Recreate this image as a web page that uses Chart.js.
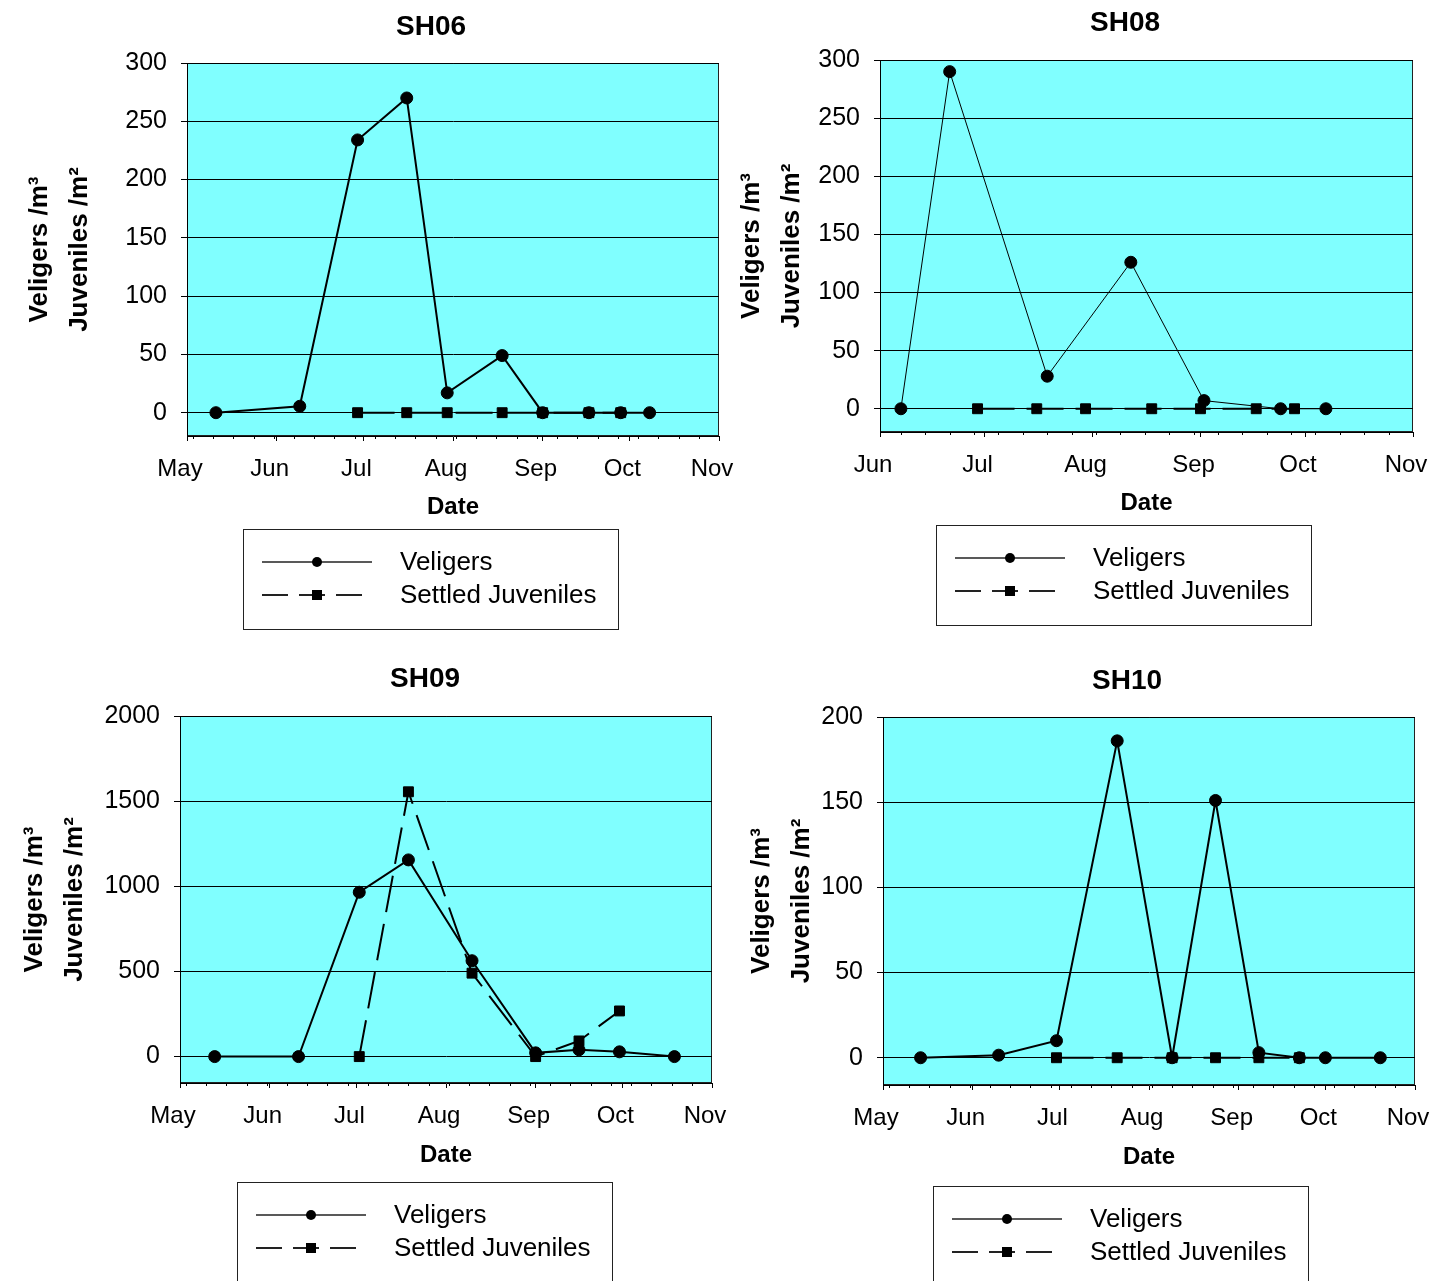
<!DOCTYPE html>
<html>
<head>
<meta charset="utf-8">
<title>Veligers and settled juveniles</title>
<script src="https://cdn.jsdelivr.net/npm/chart.js@4.4.1/dist/chart.umd.min.js"></script>
<style>
  html, body { margin: 0; padding: 0; background: #fff; }
  body { position: relative; width: 1432px; height: 1281px; overflow: hidden; }
  canvas { position: absolute; }
</style>
</head>
<body>
<canvas id="sh06"></canvas>
<canvas id="sh08"></canvas>
<canvas id="sh09"></canvas>
<canvas id="sh10"></canvas>
<script>
/* ---------- axis labels ---------- */
const monthNames = ['May', 'Jun', 'Jul', 'Aug', 'Sep', 'Oct', 'Nov'];
const monthFirsts = ['05-01', '06-01', '07-01', '08-01', '09-01', '10-01', '11-01'];
const minorTickStart = '05-03';   // weekly minor ticks

const yTicks300 = [0, 50, 100, 150, 200, 250, 300];
const yTicks2000 = [0, 500, 1000, 1500, 2000];
const yTicks200 = [0, 50, 100, 150, 200];

/* ---------- SH06 ---------- */
const sh06VeligerDates = ['05-11', '06-09', '06-29', '07-16', '07-30', '08-18', '09-01', '09-17', '09-28', '10-08'];
const sh06Veligers = [0, 5.5, 234, 270, 17, 49, 0, 0, 0, 0];
const sh06JuvenileDates = ['06-29', '07-16', '07-30', '08-18', '09-01', '09-17', '09-28'];
const sh06Juveniles = [0, 0, 0, 0, 0, 0, 0];

/* ---------- SH08 ---------- */
const sh08VeligerDates = ['06-07', '06-21', '07-19', '08-12', '09-02', '09-24', '10-07'];
const sh08Veligers = [0, 290, 28, 126, 7, 0, 0];
const sh08JuvenileDates = ['06-29', '07-16', '07-30', '08-18', '09-01', '09-17', '09-28'];
const sh08Juveniles = [0, 0, 0, 0, 0, 0, 0];

/* ---------- SH09 ---------- */
const sh09VeligerDates = ['05-13', '06-11', '07-02', '07-19', '08-10', '09-01', '09-16', '09-30', '10-19'];
const sh09Veligers = [0, 0, 965, 1155, 563, 22, 40, 28, 0];
const sh09JuvenileDates = ['07-02', '07-19', '08-10', '09-01', '09-16', '09-30'];
const sh09Juveniles = [0, 1555, 490, 0, 92, 268];

/* ---------- SH10 ---------- */
const sh10VeligerDates = ['05-14', '06-10', '06-30', '07-21', '08-09', '08-24', '09-08', '09-22', '10-01', '10-20'];
const sh10Veligers = [0, 1.5, 10, 186, 0, 151, 3, 0, 0, 0];
const sh10JuvenileDates = ['06-30', '07-21', '08-09', '08-24', '09-08', '09-22'];
const sh10Juveniles = [0, 0, 0, 0, 0, 0];

/* ---------- helpers ---------- */
const monthOffset = { '05': 120, '06': 151, '07': 181, '08': 212, '09': 243, '10': 273, '11': 304 };
function dayOf(md) {
  const [m, d] = md.split('-');
  return monthOffset[m] + Number(d);
}
function points(dates, values) {
  return dates.map((d, i) => ({ x: dayOf(d), y: values[i] }));
}

const FONT = "'Liberation Sans', Arial, sans-serif";
Chart.defaults.font.family = FONT;
Chart.defaults.color = '#000';

/* cyan plot box, minor ticks, title and legend box */
function excelFrame(o) {
  return {
    id: 'excelFrame',
    beforeDraw(chart) {
      const { ctx, chartArea: a } = chart;
      ctx.save();
      ctx.fillStyle = '#80ffff';
      ctx.fillRect(a.left, a.top, a.width, a.height);
      ctx.strokeStyle = '#222';
      ctx.lineWidth = 1;
      ctx.strokeRect(a.left + 0.5, a.top + 0.5, a.width - 1, a.height - 1);
      ctx.restore();
    },
    afterDraw(chart) {
      const { ctx, chartArea: a } = chart;
      const xs = chart.scales.x;
      const cx = o.canvas.x, cy = o.canvas.y;
      ctx.save();

      // weekly minor ticks
      ctx.strokeStyle = '#000';
      ctx.lineWidth = 1;
      ctx.beginPath();
      for (let v = dayOf(minorTickStart); v <= xs.max; v += 7) {
        if (v < xs.min) continue;
        const px = Math.round(xs.getPixelForValue(v)) + 0.5;
        ctx.moveTo(px, a.bottom);
        ctx.lineTo(px, a.bottom + 3);
      }
      ctx.stroke();

      // chart title
      ctx.fillStyle = '#000';
      ctx.font = 'bold 28px ' + FONT;
      ctx.textAlign = 'center';
      ctx.textBaseline = 'middle';
      ctx.fillText(o.title, o.titleX - cx, o.titleY - cy);

      // legend box
      const L = o.legend;
      const lx = L.x - cx, ly = L.y - cy;
      ctx.strokeStyle = '#222';
      ctx.strokeRect(lx + 0.5, ly + 0.5, 375, 100);
      ctx.font = '26px ' + FONT;
      ctx.textAlign = 'left';
      chart.data.datasets.forEach((ds, i) => {
        const ry = ly + 33 + i * 33;
        const x1 = lx + 19, x2 = lx + 129, xm = (x1 + x2) / 2;
        ctx.beginPath();
        ctx.lineWidth = ds.borderDash ? 2 : 1.5;
        ctx.setLineDash(ds.borderDash ? [26, 11] : []);
        ctx.moveTo(x1, ry);
        ctx.lineTo(x2, ry);
        ctx.stroke();
        ctx.setLineDash([]);
        if (ds.pointStyle === 'rect') {
          ctx.fillRect(xm - 5, ry - 5, 10, 10);
        } else {
          ctx.beginPath();
          ctx.arc(xm, ry, 5, 0, Math.PI * 2);
          ctx.fill();
        }
        ctx.fillText(ds.label, lx + 157, ry + 1);
      });
      ctx.restore();
    }
  };
}

function buildChart(id, o) {
  const cv = document.getElementById(id);
  cv.width = o.canvas.w;
  cv.height = o.canvas.h;
  cv.style.left = o.canvas.x + 'px';
  cv.style.top = o.canvas.y + 'px';
  const p = o.plot;
  const xHeight = (o.dateY - p.bottom) + 14.4;

  return new Chart(cv, {
    type: 'line',
    data: {
      datasets: [
        {
          label: 'Veligers',
          data: points(o.velDates, o.vel),
          borderColor: '#000',
          backgroundColor: '#000',
          borderWidth: o.velWidth,
          pointStyle: 'circle',
          pointRadius: 6,
          pointBorderWidth: 1,
          tension: 0
        },
        {
          label: 'Settled Juveniles',
          data: points(o.juvDates, o.juv),
          borderColor: '#000',
          backgroundColor: '#000',
          borderWidth: 2,
          borderDash: [37, 12],
          pointStyle: 'rect',
          pointRadius: 7,
          pointBorderWidth: 1,
          tension: 0
        }
      ]
    },
    options: {
      responsive: false,
      animation: false,
      events: [],
      layout: {
        padding: {
          left: 0,
          top: p.top - o.canvas.y,
          right: o.canvas.x + o.canvas.w - p.right,
          bottom: o.canvas.y + o.canvas.h - p.bottom - xHeight
        }
      },
      scales: {
        x: {
          type: 'linear',
          min: dayOf(o.months[0]),
          max: dayOf(o.months[o.months.length - 1]),
          afterBuildTicks: s => { s.ticks = o.months.map(m => ({ value: dayOf(m) })); },
          afterFit: s => { s.height = xHeight; s.paddingLeft = 0; s.paddingRight = 0; },
          ticks: {
            callback: (v, i) => o.names[i],
            labelOffset: -7,
            padding: 14,
            maxRotation: 0,
            autoSkip: false,
            font: { size: 24 }
          },
          grid: { drawOnChartArea: false, tickLength: 5, color: '#000' },
          border: { color: '#000' },
          title: { display: true, text: 'Date', padding: 0, font: { size: 24, weight: 'bold' } }
        },
        y: {
          min: o.yMin,
          max: o.yTicks[o.yTicks.length - 1],
          afterBuildTicks: s => { s.ticks = o.yTicks.map(v => ({ value: v })); },
          afterFit: s => { s.width = p.left - o.canvas.x; s.paddingTop = 0; s.paddingBottom = 0; },
          ticks: { callback: v => String(v), padding: 14, font: { size: 25 } },
          grid: { color: '#000', tickLength: 6 },
          border: { color: '#000' },
          title: {
            display: true,
            text: ['Veligers /m\u00b3', 'Juveniles /m\u00b2'],
            padding: { top: o.yTitleX - o.canvas.x - 20, bottom: 0 },
            font: { size: 26, weight: 'bold', lineHeight: 40 / 26 }
          }
        }
      },
      plugins: {
        legend: { display: false },
        tooltip: { enabled: false }
      }
    },
    plugins: [excelFrame(o)]
  });
}

buildChart('sh06', {
  title: 'SH06', titleX: 431, titleY: 27,
  canvas: { x: 0, y: 0, w: 760, h: 640 },
  plot: { left: 187, top: 63, right: 719, bottom: 436 },
  dateY: 507, yTitleX: 40,
  months: monthFirsts, names: monthNames,
  yTicks: yTicks300, yMin: -20,
  velDates: sh06VeligerDates, vel: sh06Veligers, velWidth: 2,
  juvDates: sh06JuvenileDates, juv: sh06Juveniles,
  legend: { x: 243, y: 529 }
});

buildChart('sh08', {
  title: 'SH08', titleX: 1125, titleY: 23,
  canvas: { x: 700, y: 0, w: 732, h: 640 },
  plot: { left: 880, top: 60, right: 1413, bottom: 432 },
  dateY: 503, yTitleX: 752,
  months: monthFirsts.slice(1), names: monthNames.slice(1),
  yTicks: yTicks300, yMin: -20,
  velDates: sh08VeligerDates, vel: sh08Veligers, velWidth: 1,
  juvDates: sh08JuvenileDates, juv: sh08Juveniles,
  legend: { x: 936, y: 525 }
});

buildChart('sh09', {
  title: 'SH09', titleX: 425, titleY: 679,
  canvas: { x: 0, y: 640, w: 760, h: 641 },
  plot: { left: 180, top: 716, right: 712, bottom: 1083 },
  dateY: 1155, yTitleX: 35,
  months: monthFirsts, names: monthNames,
  yTicks: yTicks2000, yMin: -155,
  velDates: sh09VeligerDates, vel: sh09Veligers, velWidth: 2,
  juvDates: sh09JuvenileDates, juv: sh09Juveniles,
  legend: { x: 237, y: 1182 }
});

buildChart('sh10', {
  title: 'SH10', titleX: 1127, titleY: 681,
  canvas: { x: 700, y: 640, w: 732, h: 641 },
  plot: { left: 883, top: 717, right: 1415, bottom: 1085 },
  dateY: 1157, yTitleX: 762,
  months: monthFirsts, names: monthNames,
  yTicks: yTicks200, yMin: -16,
  velDates: sh10VeligerDates, vel: sh10Veligers, velWidth: 2,
  juvDates: sh10JuvenileDates, juv: sh10Juveniles,
  legend: { x: 933, y: 1186 }
});
</script>
</body>
</html>
